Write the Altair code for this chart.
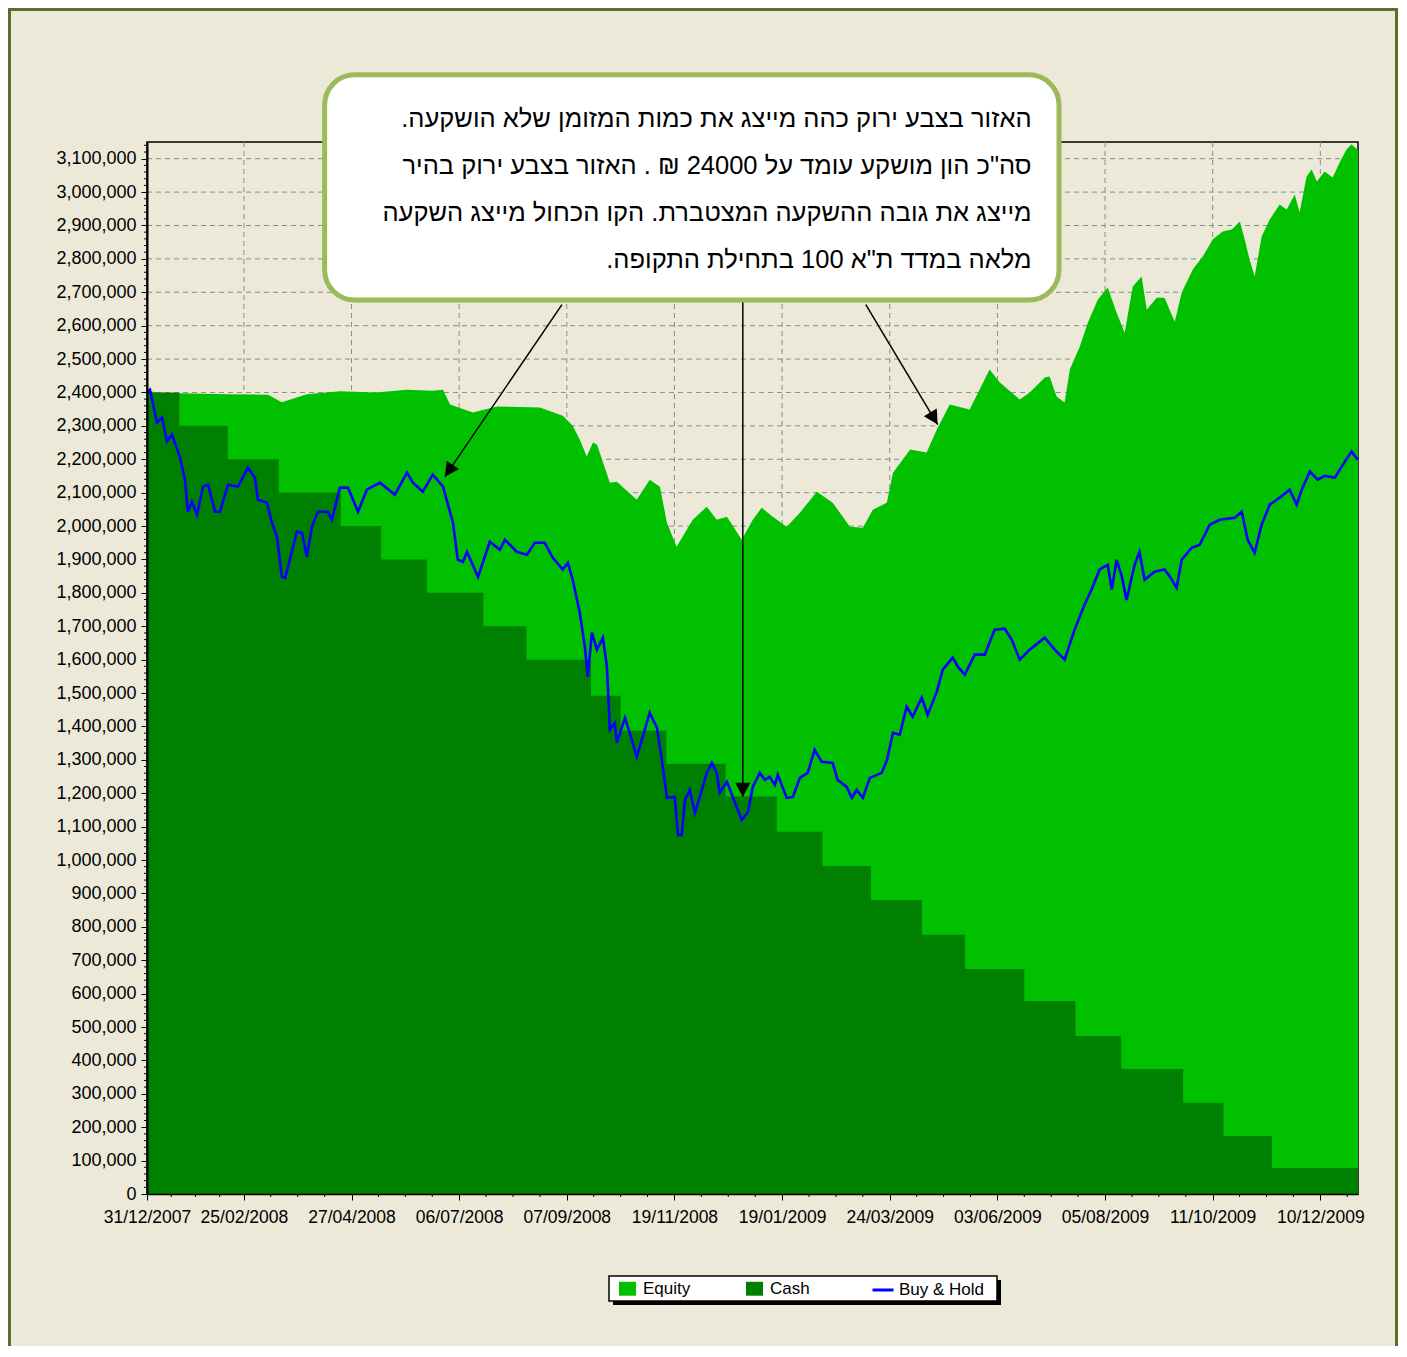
import altair as alt
import pandas as pd

FONT = "Liberation Sans"
X_MAX = 450          # trading-day index at right edge of plot
Y_MAX = 3150000

# ---------------- axis ticks ----------------
x_tick_values = [0, 36, 76, 116, 156, 196, 236, 276, 316, 356, 396, 436]
x_tick_labels = ["31/12/2007", "25/02/2008", "27/04/2008", "06/07/2008", "07/09/2008",
                 "19/11/2008", "19/01/2009", "24/03/2009", "03/06/2009", "05/08/2009",
                 "11/10/2009", "10/12/2009"]
x_minor_ticks = [9, 18, 27] + [d for d in range(46, X_MAX, 10) if (d - 36) % 40]
y_tick_values = list(range(0, 3100001, 100000))
y_minor_ticks = [v for v in range(20000, Y_MAX, 20000) if v % 100000]

# ---------------- series (values in thousands) ----------------
equity_day = [0, 3, 12, 30, 45, 50.1, 59.4, 71.7, 85, 96.6,
              106, 110, 112.6, 121.1, 130.0, 146.0, 154.5, 158.2, 160.8, 163.4,
              165.7, 167.2, 172.0, 174.6, 182.0, 186.8, 190.6, 193.2, 196.8, 202.8,
              208.0, 211.7, 215.5, 221.0, 225.1, 228.4, 232.5, 237.7, 242.6, 248.9,
              254.8, 261.2, 266.0, 269.7, 274.9, 277.2, 283.6, 289.7, 293.5, 298.3,
              305.7, 313.1, 316.9, 324.3, 328.0, 333.6, 335.4, 338.0, 341.0, 342.9,
              346.6, 349.6, 353.3, 357.0, 360.3, 363.3, 366.3, 369.6, 371.5, 375.2,
              378.1, 381.9, 384.5, 388.6, 392.3, 396.0, 399.7, 403.1, 406.1, 407.9,
              409.7, 411.6, 414.2, 417.2, 420.9, 423.5, 426.5, 428.3, 430.9, 432.8,
              434.7, 437.6, 440.6, 443.2, 445.8, 447.6, 450]
equity_k = [2408, 2400, 2398, 2395, 2393, 2371, 2395, 2404, 2400, 2408,
            2405, 2408, 2364, 2340, 2358, 2355, 2330, 2300, 2259, 2208,
            2250, 2244, 2130, 2133, 2079, 2139, 2118, 2010, 1938, 2019,
            2058, 2019, 2028, 1959, 2019, 2055, 2028, 1998, 2040, 2103,
            2070, 1998, 1995, 2049, 2070, 2160, 2229, 2220, 2289, 2364,
            2349, 2469, 2430, 2379, 2400, 2445, 2448, 2388, 2370, 2469,
            2537, 2609, 2678, 2714, 2639, 2579, 2717, 2747, 2648, 2684,
            2684, 2612, 2699, 2768, 2807, 2858, 2882, 2888, 2912, 2858,
            2798, 2747, 2867, 2918, 2963, 2948, 2993, 2939, 3047, 3068,
            3032, 3062, 3044, 3089, 3128, 3143, 3125]

cash_day = [0, 12, 30, 49, 72, 87, 104, 125, 141, 165, 176, 193, 215,
            234, 251, 269, 288, 304, 326, 345, 362, 385, 400, 418, 450]
cash_k = [2400, 2300, 2200, 2100, 2000, 1900, 1800, 1700, 1600, 1492, 1387, 1288, 1190,
          1085, 982, 880, 776, 674, 578, 473, 374, 273, 174, 78, 78]

bh_day = [0, 1.1, 3.7, 5.6, 7.4, 9.3, 12.3, 14.1, 15.2, 16.7,
          18.6, 20.8, 22.7, 25.3, 27.1, 30.1, 33.8, 37.5, 40.1, 41.2,
          44.6, 46.4, 48.3, 50.1, 51.3, 52.4, 55.7, 57.6, 59.4, 61.3,
          63.5, 67.2, 68.7, 71.7, 74.7, 78.4, 81.7, 86.6, 92.1, 96.6,
          98.8, 102.5, 106.2, 110.0, 113.7, 115.5, 117.4, 118.9, 123.0, 127.4,
          131.1, 133.0, 137.4, 141.2, 144.1, 147.8, 150.8, 154.5, 156.4, 158.2,
          160.8, 162.7, 163.8, 165.3, 167.2, 169.4, 170.9, 172.0, 173.8, 174.6,
          177.6, 179.4, 182.0, 184.2, 186.8, 189.5, 191.3, 193.2, 196.1, 197.3,
          198.7, 199.9, 201.7, 203.6, 205.4, 208.0, 209.9, 211.7, 212.8, 215.5,
          217.7, 221.0, 223.3, 225.1, 227.7, 229.6, 231.4, 233.3, 234.4, 237.7,
          240.0, 242.6, 245.5, 248.1, 250.7, 254.8, 256.6, 260.0, 261.9, 263.7,
          266.0, 268.6, 273.0, 275.0, 277.2, 279.7, 282.3, 284.5, 287.9, 290.1,
          293.5, 295.7, 299.4, 301.3, 303.9, 307.6, 311.3, 315.0, 318.7, 321.3,
          324.3, 328.0, 333.6, 337.3, 341.0, 344.7, 348.4, 351.0, 354.0, 357.0,
          358.5, 360.3, 362.2, 364.0, 367.0, 368.8, 370.7, 374.4, 378.1, 380.0,
          382.6, 384.5, 388.2, 391.2, 394.9, 398.6, 404.2, 406.8, 409.0, 411.6,
          414.2, 417.2, 420.9, 424.6, 427.2, 429.1, 432.1, 435.0, 437.6, 441.4,
          445.1, 447.6, 449.9]
bh_k = [2400, 2408, 2310, 2325, 2253, 2274, 2205, 2139, 2043, 2073,
        2034, 2118, 2124, 2043, 2043, 2124, 2118, 2175, 2145, 2079,
        2070, 2010, 1968, 1848, 1845, 1878, 1983, 1980, 1908, 1998,
        2043, 2043, 2019, 2115, 2115, 2043, 2109, 2130, 2094, 2160,
        2130, 2103, 2154, 2118, 2010, 1899, 1893, 1923, 1848, 1953,
        1929, 1959, 1923, 1914, 1950, 1950, 1905, 1870, 1890, 1839,
        1741, 1639, 1549, 1681, 1630, 1666, 1579, 1390, 1411, 1351,
        1426, 1381, 1309, 1369, 1441, 1396, 1300, 1186, 1189, 1075,
        1075, 1180, 1210, 1141, 1189, 1261, 1291, 1261, 1201, 1234,
        1189, 1120, 1144, 1219, 1261, 1240, 1249, 1225, 1255, 1186,
        1189, 1246, 1261, 1330, 1294, 1291, 1240, 1219, 1186, 1210,
        1186, 1246, 1261, 1300, 1381, 1375, 1459, 1429, 1486, 1435,
        1504, 1570, 1606, 1579, 1555, 1615, 1615, 1690, 1693, 1660,
        1600, 1630, 1666, 1630, 1600, 1690, 1765, 1810, 1870, 1884,
        1810, 1899, 1850, 1779, 1884, 1923, 1839, 1863, 1870, 1850,
        1815, 1899, 1935, 1944, 2004, 2019, 2025, 2043, 1959, 1920,
        2004, 2064, 2085, 2109, 2064, 2109, 2163, 2139, 2150, 2145,
        2193, 2223, 2199]

area_names = ["Equity", "Cash"]
area_colors = ["#00c000", "#008000"]
line_names = ["Buy & Hold"]
line_colors = ["#0000ff"]

# ---------------- annotation (callout) ----------------
note_lines = [
    "האזור בצבע ירוק כהה מייצג את כמות המזומן שלא הושקעה.",
    "סה\"כ הון מושקע עומד על 24000 ₪ . האזור בצבע ירוק בהיר",
    "מייצג את גובה ההשקעה המצטברת. הקו הכחול מייצג השקעה",
    "מלאה במדד ת\"א 100 בתחילת התקופה.",
]
note_day = 328.7
note_value = [3220000, 3079000, 2938000, 2797000]
box_day = [66.0, 338.9]
box_value = [3351000, 2677000]
arrow_day_from = [154.2, 221.4, 267.1]
arrow_value_from = [2663000, 2672000, 2663000]
arrow_day_to = [110.7, 221.4, 293.8]
arrow_value_to = [2148000, 1189000, 2304000]
arrow_angle = [214, 180, 149]

# ---------------- tables ----------------
equity_df = pd.DataFrame({"x": equity_day, "v": [k * 1000 for k in equity_k], "series": "Equity"})
cash_df = pd.DataFrame({"x": cash_day, "v": [k * 1000 for k in cash_k], "series": "Cash"})
bh_df = pd.DataFrame({"x": bh_day, "v": [k * 1000 for k in bh_k], "series": "Buy & Hold"})

labels_js = "[" + ",".join("'%s'" % s for s in x_tick_labels) + "]"
values_js = "[" + ",".join(str(v) for v in x_tick_values) + "]"
label_expr = "%s[indexof(%s, datum.value)]" % (labels_js, values_js)

xscale = alt.Scale(domain=[0, X_MAX], nice=False, zero=False)
yscale = alt.Scale(domain=[0, Y_MAX], nice=False, zero=False)
x_axis = alt.Axis(values=x_tick_values, labelExpr=label_expr, title=None, grid=False,
                  labelAngle=0, labelFont=FONT, labelFontSize=17.5, labelColor="black",
                  labelPadding=8, labelOverlap=False, labelFlush=False,
                  tickColor="black", tickSize=6, tickWidth=1,
                  domainColor="black", domainWidth=1.5, zindex=1)
y_axis = alt.Axis(values=y_tick_values, format=",.0f", title=None, grid=False,
                  labelFont=FONT, labelFontSize=18, labelColor="black", labelPadding=5,
                  labelOverlap=False, tickColor="black", tickSize=6, tickWidth=1,
                  domainColor="black", domainWidth=2, zindex=1)


def X(f):
    return alt.X(f, type="quantitative", scale=xscale, axis=x_axis)


def Y(f):
    return alt.Y(f, type="quantitative", scale=yscale, axis=y_axis)


GRID = dict(color="#8c8c8c", strokeDash=[5, 4], strokeWidth=1)
grid_h = alt.Chart(pd.DataFrame({"v": y_tick_values[1:]})).mark_rule(**GRID).encode(y=Y("v"))
grid_v = alt.Chart(pd.DataFrame({"x": x_tick_values[1:]})).mark_rule(**GRID).encode(x=X("x"))

fill_legend = alt.Legend(orient="none", legendX=472, legendY=1138, direction="horizontal",
                         title=None, symbolType="M-1,-0.82H1V0.82H-1Z", symbolSize=289,
                         symbolStrokeWidth=0, labelFont=FONT, labelFontSize=17,
                         labelColor="black", labelOffset=7, columnPadding=55, padding=0,
                         zindex=2)
stroke_legend = alt.Legend(orient="none", legendX=724, legendY=1136, direction="horizontal",
                           title=None, symbolType="stroke", symbolSize=441, symbolStrokeWidth=3,
                           labelFont=FONT, labelFontSize=17, labelColor="black",
                           labelOffset=4, padding=0, zindex=2)
fill_enc = alt.Fill("series:N", scale=alt.Scale(domain=area_names, range=area_colors),
                    legend=fill_legend)

equity = alt.Chart(equity_df).mark_area(opacity=1).encode(x=X("x"), y=Y("v"), fill=fill_enc)
cash = alt.Chart(cash_df).mark_area(opacity=1, interpolate="step-after").encode(
    x=X("x"), y=Y("v"), fill=fill_enc)
bh = alt.Chart(bh_df).mark_line(strokeWidth=2.6).encode(
    x=X("x"), y=Y("v"),
    stroke=alt.Stroke("series:N", scale=alt.Scale(domain=line_names, range=line_colors),
                      legend=stroke_legend))

minor_x = alt.Chart(pd.DataFrame({"x": x_minor_ticks, "y0": 0, "y1": -9000})).mark_rule(
    color="black", strokeWidth=1).encode(x=X("x"), y=Y("y0"), y2="y1")
minor_y = alt.Chart(pd.DataFrame({"v": y_minor_ticks, "x0": 0, "x1": -1.1})).mark_rule(
    color="black", strokeWidth=1).encode(y=Y("v"), x=X("x0"), x2="x1")

arrows_df = pd.DataFrame({"x": arrow_day_from, "y": arrow_value_from,
                          "x2": arrow_day_to, "y2": arrow_value_to, "angle": arrow_angle})
arrow_lines = alt.Chart(arrows_df).mark_rule(color="black", strokeWidth=1.5).encode(
    x=X("x"), y=Y("y"), x2="x2", y2="y2")
arrow_heads = alt.Chart(arrows_df).mark_point(
    shape="M0,0L-1,1.9L1,1.9Z", filled=True, size=225, color="black", opacity=1,
    strokeWidth=0).encode(x=X("x2"), y=Y("y2"), angle=alt.Angle("angle:Q", scale=None))

box = alt.Chart(pd.DataFrame({"x": [box_day[0]], "x2": [box_day[1]],
                              "y": [box_value[0]], "y2": [box_value[1]]})).mark_rect(
    fill="white", stroke="#9bbb59", strokeWidth=5, cornerRadius=30).encode(
    x=X("x"), x2="x2", y=Y("y"), y2="y2")

note_df = pd.DataFrame({"x": note_day, "y": note_value,
                        "t": ["\u202b" + s + "\u202c" for s in note_lines]})
note = alt.Chart(note_df).mark_text(align="right", baseline="middle", font=FONT,
                                    fontSize=25.5, color="black").encode(
    x=X("x"), y=Y("y"), text="t:N")

one = pd.DataFrame({"k": [0]})
legend_shadow = alt.Chart(one).mark_rect(fill="black").encode(
    x=alt.value(466), x2=alt.value(854), y=alt.value(1138), y2=alt.value(1163))
legend_box = alt.Chart(one).mark_rect(fill="white", stroke="black", strokeWidth=1.5).encode(
    x=alt.value(462), x2=alt.value(850), y=alt.value(1134), y2=alt.value(1159))
frame = alt.Chart(one).mark_rect(fillOpacity=0, stroke="#5b6f2f", strokeWidth=3).encode(
    x=alt.value(-137.5), x2=alt.value(1249.5), y=alt.value(-132.5), y2=alt.value(1220))

chart = alt.layer(
    grid_h, grid_v, equity, cash, bh, minor_x, minor_y,
    arrow_lines, arrow_heads, box, note, legend_shadow, legend_box, frame
).properties(
    width=1211, height=1052,
    autosize=alt.AutoSizeParams(type="none"),
    padding={"left": 139, "top": 134, "right": 40, "bottom": 152},
    background="#ece9d8",
).configure_view(stroke="black", strokeWidth=1.5)

chart.save("out.html", embed_options={"renderer": "svg", "actions": False})
